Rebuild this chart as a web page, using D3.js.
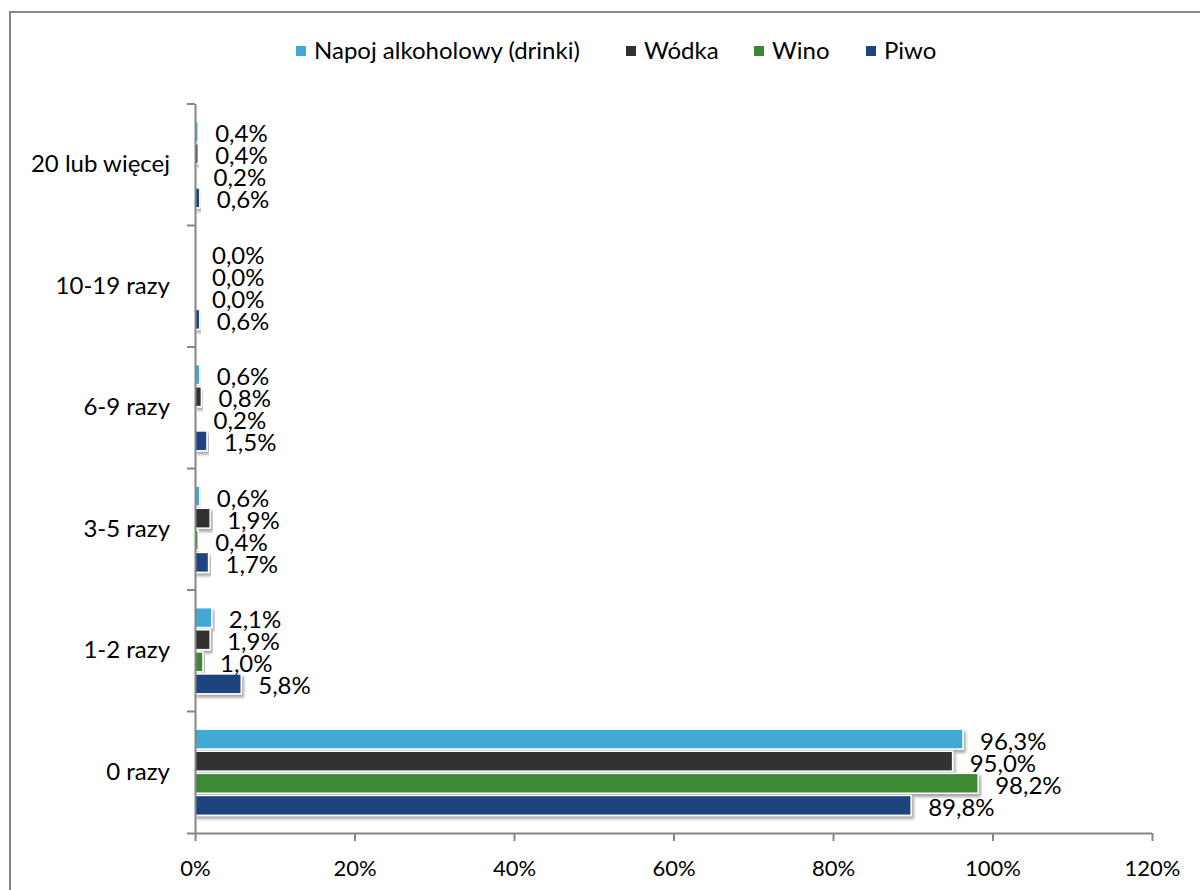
<!DOCTYPE html>
<html>
<head>
<meta charset="utf-8">
<script src="https://cdn.jsdelivr.net/npm/d3@7"></script>
<style>
  body { margin: 0; background: #fff; }
  svg { display: block; font-family: Lato, "Open Sans", sans-serif; }
</style>
</head>
<body>
<div id="chart"></div>
<script>
// categories bottom -> top
const categories = ["0 razy", "1-2 razy", "3-5 razy", "6-9 razy", "10-19 razy", "20 lub więcej"];
const series = ["Napoj alkoholowy (drinki)", "Wódka", "Wino", "Piwo"];
const colors = ["#3faad5", "#333132", "#3c8830", "#1a4580"];

const napoj = [96.3, 2.1, 0.6, 0.6, 0.0, 0.4];
const wodka = [95.0, 1.9, 1.9, 0.8, 0.0, 0.4];
const wino  = [98.2, 1.0, 0.4, 0.2, 0.0, 0.2];
const piwo  = [89.8, 5.8, 1.7, 1.5, 0.6, 0.6];
const xTicks = [0, 20, 40, 60, 80, 100, 120];

const values = [napoj, wodka, wino, piwo];

const width = 1200;
const height = 890;
const marginTop = 104;
const marginBottom = 57;
const marginLeft = 195;
const marginRight = 48;

const x = d3.scaleLinear()
  .domain([0, 120])
  .range([marginLeft, width - marginRight]);

// top category at top of chart
const y = d3.scaleBand()
  .domain(categories.slice().reverse())
  .range([marginTop, height - marginBottom])
  .padding(0);

const ySub = d3.scaleBand()
  .domain(series)
  .range([0, y.bandwidth()])
  .paddingInner(0.1)
  .paddingOuter(0.8);

const svg = d3.select("#chart")
  .append("svg")
  .attr("width", width)
  .attr("height", height)
  .attr("viewBox", [0, 0, width, height]);

// drop shadow for the bars
const defs = svg.append("defs");
defs.append("filter")
  .attr("id", "shadow")
  .attr("x", "-5%").attr("y", "-20%")
  .attr("width", "120%").attr("height", "160%")
  .append("feDropShadow")
  .attr("dx", 2).attr("dy", 3)
  .attr("stdDeviation", 1.8)
  .attr("flood-color", "#000")
  .attr("flood-opacity", 0.35);

// outer border
svg.append("rect")
  .attr("x", 10).attr("y", 12)
  .attr("width", width).attr("height", height)
  .attr("fill", "none")
  .attr("stroke", "#868686")
  .attr("stroke-width", 2);

// legend
const legendX = [296, 626, 754, 866];
const legend = svg.append("g")
  .selectAll("g")
  .data(series)
  .join("g")
  .attr("transform", (d, i) => `translate(${legendX[i]},51)`);
legend.append("rect")
  .attr("x", 0).attr("y", -5)
  .attr("width", 10).attr("height", 10)
  .attr("fill", (d, i) => colors[i]);
legend.append("text")
  .attr("x", 18)
  .attr("dy", "0.35em")
  .attr("font-size", 24)
  .attr("fill", "#000")
  .text(d => d);

// bars
const rows = categories.map((c, ci) => ({
  cat: c,
  items: series.map((s, si) => ({ s: s, i: si, v: values[si][ci] }))
}));

const group = svg.append("g")
  .selectAll("g")
  .data(rows)
  .join("g")
  .attr("transform", d => `translate(0,${y(d.cat)})`);

group.selectAll("rect")
  .data(d => d.items.filter(e => e.v > 0))
  .join("rect")
  .attr("x", x(0))
  .attr("y", d => ySub(d.s))
  .attr("width", d => x(d.v) - x(0))
  .attr("height", ySub.bandwidth())
  .attr("fill", d => colors[d.i])
  .attr("stroke", "#fff")
  .attr("stroke-width", 1.5)
  .attr("filter", "url(#shadow)");

group.selectAll("text")
  .data(d => d.items)
  .join("text")
  .attr("x", d => x(d.v) + 17)
  .attr("y", d => ySub(d.s) + ySub.bandwidth() / 2 + 2)
  .attr("dy", "0.35em")
  .attr("font-size", 24)
  .attr("fill", "#000")
  .text(d => d.v.toFixed(1).replace(".", ",") + "%");

// axes
const xAxis = svg.append("g")
  .attr("transform", `translate(0,${height - marginBottom})`)
  .call(d3.axisBottom(x).tickValues(xTicks).tickFormat(d => d + "%").tickSize(8).tickSizeOuter(0));
xAxis.select(".domain").attr("d", `M${x(0) - 8},0.5H${x(120)}`);

const yAxis = svg.append("g")
  .attr("transform", `translate(${marginLeft},0)`)
  .call(d3.axisLeft(y).tickSize(0).tickPadding(25));

// y ticks sit on band boundaries
yAxis.selectAll(".bound")
  .data(categories.slice(1))
  .join("line")
  .attr("class", "bound")
  .attr("x1", -8).attr("x2", 0)
  .attr("y1", d => y(d) + y.bandwidth())
  .attr("y2", d => y(d) + y.bandwidth());
yAxis.append("line")
  .attr("class", "bound")
  .attr("x1", -8).attr("x2", 0)
  .attr("y1", marginTop).attr("y2", marginTop);
yAxis.select(".domain").attr("d", `M0.5,${marginTop}V${height - marginBottom}`);

svg.selectAll(".domain, .tick line, .bound")
  .attr("stroke", "#868686")
  .attr("stroke-width", 2);
svg.selectAll(".tick text")
  .attr("fill", "#000")
  .attr("font-family", "Lato, 'Open Sans', sans-serif");
yAxis.selectAll(".tick text").attr("font-size", 24);
xAxis.selectAll(".tick text").attr("font-size", 22).attr("dy", "1.45em");
</script>
</body>
</html>
